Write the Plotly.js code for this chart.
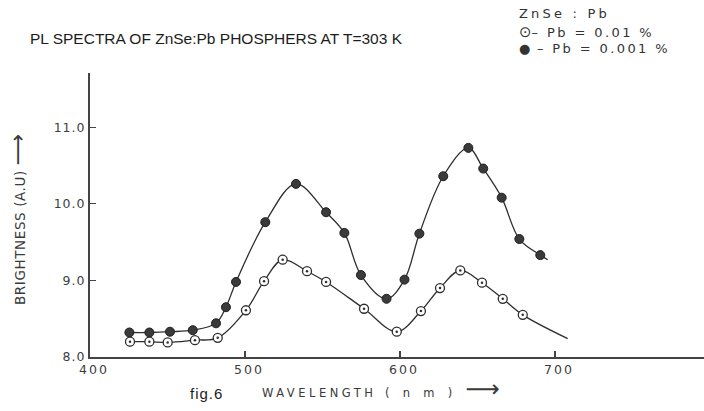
<!DOCTYPE html>
<html>
<head>
<meta charset="utf-8">
<script src="https://cdn.plot.ly/plotly-3.0.1.min.js"></script>
<style>
  html, body { margin: 0; padding: 0; background: #ffffff; }
  #chart { width: 704px; height: 411px; }
</style>
</head>
<body>
<div id="chart"></div>
<script>
// PL spectra of ZnSe:Pb phosphors, T = 303 K
// Pb = 0.001 % (filled points)
const wl_001 = [425.4, 438.3, 451.6, 466.3, 481.3, 487.7, 494.2, 513.1, 532.9, 552.3, 564.1,
                574.8, 591.3, 602.9, 612.5, 627.9, 644.1, 653.7, 665.6, 677.0, 690.5];
const br_001 = [8.32, 8.32, 8.33, 8.35, 8.44, 8.65, 8.98, 9.76, 10.26, 9.89, 9.62,
                9.07, 8.76, 9.01, 9.61, 10.36, 10.73, 10.46, 10.08, 9.54, 9.33];
// Pb = 0.01 % (open points)
const wl_01 = [425.8, 438.3, 450.1, 467.7, 482.4, 500.6, 512.3, 524.3, 540.0, 552.3,
               576.8, 597.9, 613.5, 625.8, 638.9, 652.9, 666.3, 679.2];
const br_01 = [8.20, 8.20, 8.19, 8.22, 8.25, 8.61, 8.99, 9.27, 9.12, 8.98,
               8.63, 8.33, 8.60, 8.90, 9.13, 8.97, 8.76, 8.55];
// end of each fitted curve beyond its last measured point
const tailWl_001 = [695.3];
const tailBr_001 = [9.27];
const tailWl_01 = [708.2];
const tailBr_01 = [8.24];

// axis ticks
const xTicks = [400, 500, 600, 700];
const yTicks = [8, 9, 10, 11];
const yTickLabels = ['8.0', '9.0', '10.0', '11.0'];

// legend lines
const legendHead = 'ZnSe : Pb';
const legendOpenSymbol = '⊙';
const legendOpenText = '– Pb = 0.01 %';
const legendFilledSymbol = '●';
const legendFilledText = ' – Pb = 0.001 %';

const ink = '#2e2e2e';
const spaced = (s, px) => '<span style="letter-spacing:' + px + 'px">' + s + '</span>';
const sized = (s, px) => '<span style="font-size:' + px + 'px">' + s + '</span>';

// plot-area geometry (px) used to place free text
const L = 90, T = 73, W = 614, H = 284;
const px2x = p => (p - L) / W;
const px2y = p => (T + H - p) / H;

const traces = [
  { x: wl_001.concat(tailWl_001), y: br_001.concat(tailBr_001), mode: 'lines',
    line: { shape: 'spline', smoothing: 1, color: ink, width: 1.3 }, hoverinfo: 'skip' },
  { x: wl_01.concat(tailWl_01), y: br_01.concat(tailBr_01), mode: 'lines',
    line: { shape: 'spline', smoothing: 1, color: ink, width: 1.3 }, hoverinfo: 'skip' },
  { x: wl_001, y: br_001, mode: 'markers', name: 'Pb = 0.001 %',
    marker: { symbol: 'circle', size: 9, color: '#3a3a3a', line: { color: '#1f1f1f', width: 1 } } },
  { x: wl_01, y: br_01, mode: 'markers', name: 'Pb = 0.01 %',
    marker: { symbol: 'circle', size: 9, color: '#ffffff', line: { color: ink, width: 1.3 } } },
  { x: wl_01, y: br_01, mode: 'markers', hoverinfo: 'skip',
    marker: { symbol: 'circle', size: 2.5, color: ink, line: { width: 0 } } }
];

const axisFont = { family: 'DejaVu Sans', size: 12.5, color: '#3d3d3d' };
const legendFont = { family: 'DejaVu Sans', size: 13, color: '#333' };

const layout = {
  width: 704, height: 411,
  margin: { l: L, r: 704 - L - W, t: T, b: 411 - T - H, pad: 0 },
  paper_bgcolor: '#ffffff', plot_bgcolor: '#ffffff',
  showlegend: false,
  title: {
    text: 'PL SPECTRA OF ZnSe:Pb PHOSPHERS AT T=303 K',
    font: { family: 'Liberation Sans, Arial, sans-serif', size: 15.5, color: '#1c1c1c' },
    xref: 'container', yref: 'container', x: 30 / 704, xanchor: 'left', y: 1 - 39 / 411, yanchor: 'middle'
  },
  xaxis: {
    range: [400, 400 + W / 1.55], showgrid: false, zeroline: false,
    showline: true, linecolor: '#444', linewidth: 2,
    ticks: 'inside', ticklen: 6, tickwidth: 1.3, tickcolor: '#444',
    tickvals: xTicks, ticktext: xTicks.map(v => spaced(String(v), 2)),
    ticklabelshift: 4, tickfont: axisFont
  },
  yaxis: {
    range: [8, 8 + H / 76.6], showgrid: false, zeroline: false,
    showline: true, linecolor: '#444', linewidth: 2,
    ticks: 'inside', ticklen: 6, tickwidth: 1.3, tickcolor: '#444',
    tickvals: yTicks, ticktext: yTickLabels.map(s => spaced(s, 1)),
    tickfont: axisFont
  },
  annotations: [
    { text: spaced('BRIGHTNESS (A.U) ', 0.6) + sized('⟶', 22), textangle: -90,
      xref: 'paper', yref: 'paper', x: px2x(17), y: px2y(220), xanchor: 'center', yanchor: 'middle',
      showarrow: false, font: { family: 'DejaVu Sans', size: 13.5, color: '#3a3a3a' } },
    { text: spaced('WAVELENGTH', 3.5) + spaced(' ( n m ) ', 4.8) + sized('⟶', 24),
      xref: 'paper', yref: 'paper', x: px2x(260), y: px2y(389), xanchor: 'left', yanchor: 'middle',
      showarrow: false, font: { family: 'DejaVu Sans', size: 11.5, color: '#3a3a3a' } },
    { text: spaced('fig.6', 1),
      xref: 'paper', yref: 'paper', x: px2x(188), y: px2y(393), xanchor: 'left', yanchor: 'middle',
      showarrow: false, font: { family: 'Liberation Sans, Arial, sans-serif', size: 15, color: '#1c1c1c' } },
    { text: spaced(legendHead, 3.2),
      xref: 'paper', yref: 'paper', x: px2x(517), y: px2y(13), xanchor: 'left', yanchor: 'middle',
      showarrow: false, font: legendFont },
    { text: sized(legendOpenSymbol, 15) + spaced(legendOpenText, 2.4),
      xref: 'paper', yref: 'paper', x: px2x(517), y: px2y(32), xanchor: 'left', yanchor: 'middle',
      showarrow: false, font: legendFont },
    { text: sized(legendFilledSymbol, 13) + spaced(legendFilledText, 2.4),
      xref: 'paper', yref: 'paper', x: px2x(517), y: px2y(49), xanchor: 'left', yanchor: 'middle',
      showarrow: false, font: legendFont }
  ]
};

Plotly.newPlot('chart', traces, layout, { staticPlot: true, displayModeBar: false });
</script>
</body>
</html>
